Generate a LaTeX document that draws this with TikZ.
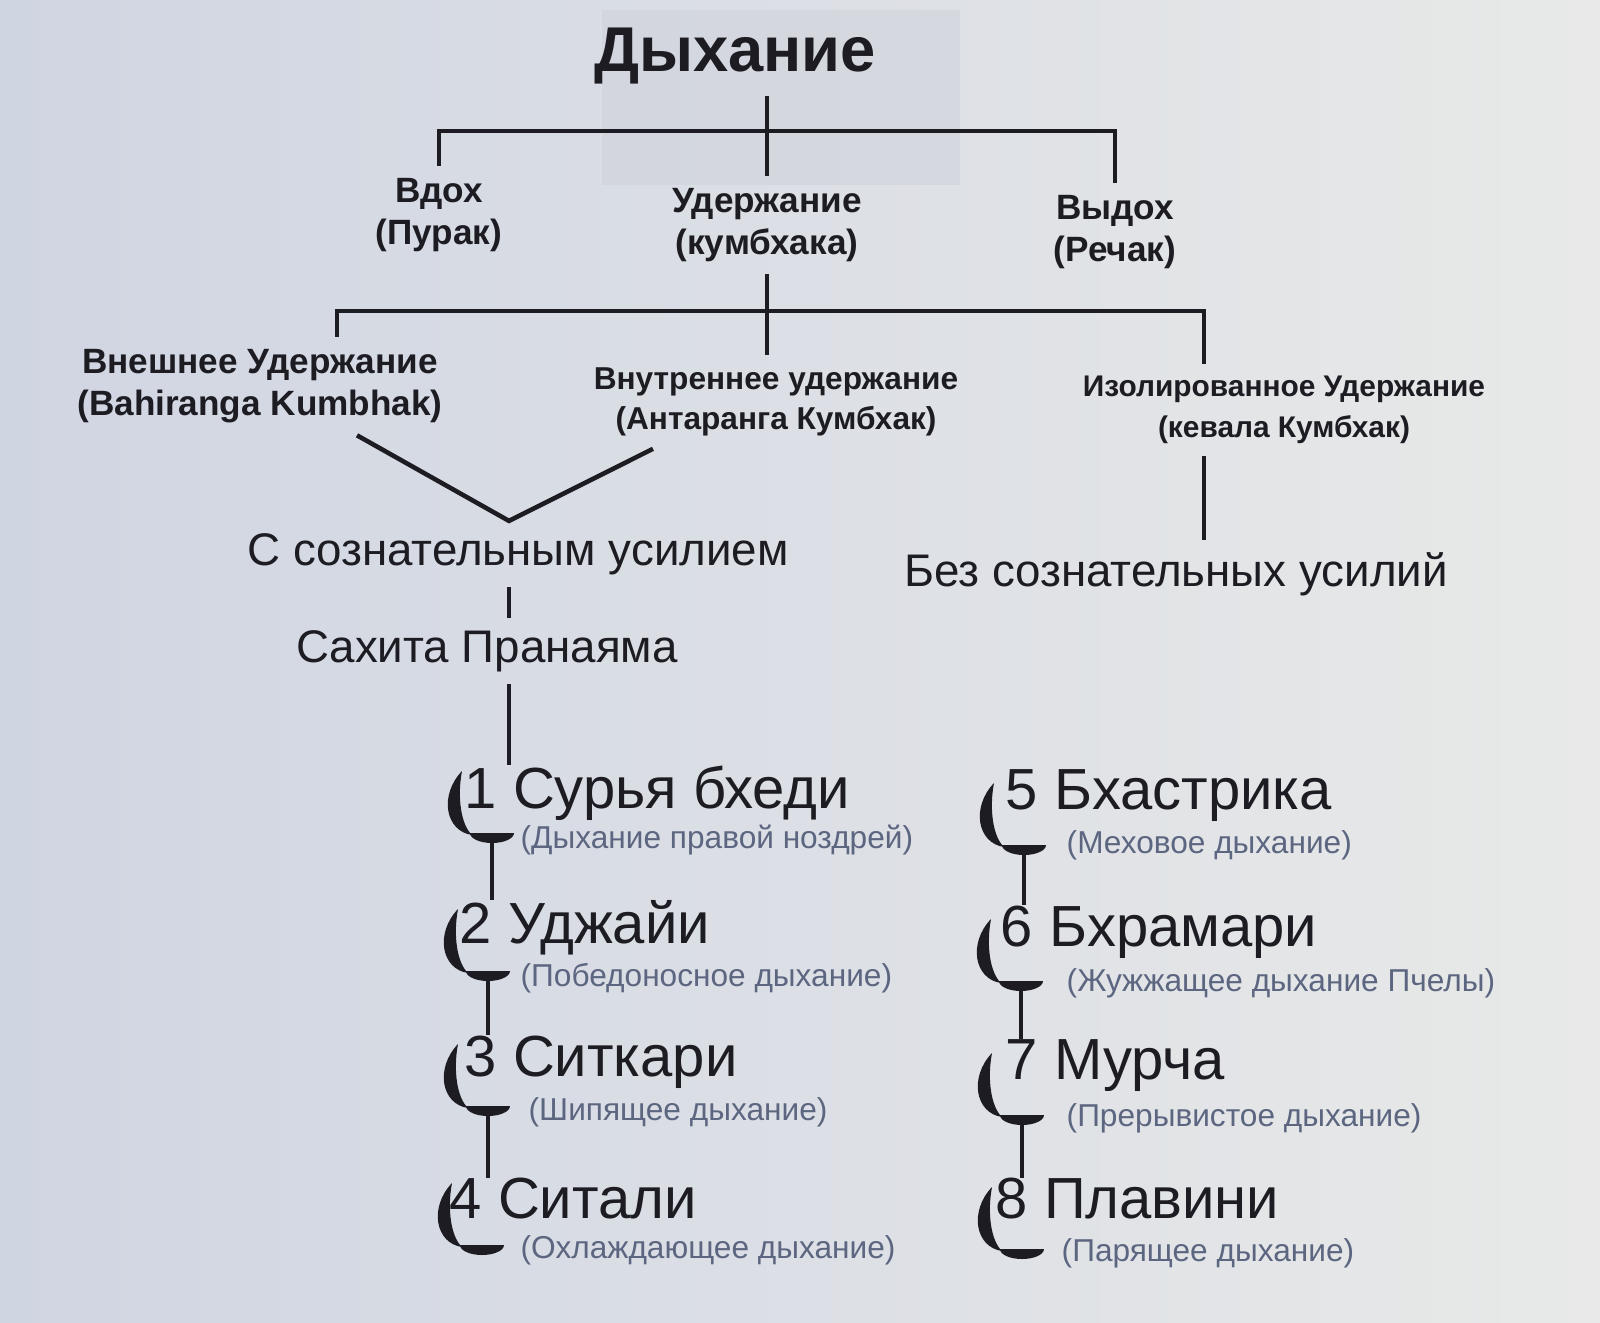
\documentclass[tikz,border=0pt]{standalone}
\usepackage{fontspec}
\setmainfont{Liberation Sans}
\usetikzlibrary{positioning, calc}

\definecolor{ink}{RGB}{28,28,34}
\definecolor{gloss}{RGB}{92,102,128}
\definecolor{paperL}{RGB}{208,213,226}
\definecolor{paperR}{RGB}{232,233,232}
\definecolor{ghost}{RGB}{200,202,212}

\tikzset{
  moon/.pic={
    \fill[ink] (-0.3,0.64) .. controls (-0.53,0.4) and (-0.47,0.04) .. (-0.2,0)
      .. controls (-0.31,0.1) and (-0.35,0.38) .. cycle;
    \fill[ink] (-0.22,0.02) arc (180:360:0.22 and 0.1) -- cycle;
  }
}

\begin{document}
\begin{tikzpicture}[
    branch/.style={draw=ink, line width=1.3pt},
    title/.style={font=\bfseries\fontsize{18}{20}\selectfont, text=ink},
    head/.style={font=\bfseries\fontsize{10}{12}\selectfont, text=ink, align=center},
    mode/.style={font=\fontsize{13}{15}\selectfont, text=ink},
    item/.style={font=\fontsize{16.5}{18}\selectfont, text=ink, anchor=west, inner sep=0pt},
    note/.style={font=\fontsize{9}{10}\selectfont, text=gloss, anchor=west, inner sep=0pt}]
    \useasboundingbox (0,0) rectangle (16,-13.22);
    \shade[left color=paperL, right color=paperR] (0,0) rectangle (16,-13.22);
    \fill[ghost, opacity=0.35] (6.02,-0.1) rectangle (9.6,-1.85);

    % breathing tree
    \node[title] (breath) at (7.35,-0.56) {Дыхание};
    \node[head] (inhale) at (4.39,-2.15) {Вдох\\(Пурак)};
    \node[head] (hold) at (7.67,-2.25) {Удержание\\(кумбхака)};
    \node[head] (exhale) at (11.15,-2.32) {Выдох\\(Речак)};
    \coordinate (bar1) at (7.67,-1.31);

    \draw[branch] (breath.south -| hold) -- (hold.north);
    \draw[branch] (inhale.north) |- (bar1) -| (exhale.north);

    % kinds of holding
    \node[head] (outer) at (2.60,-3.86) {Внешнее Удержание\\(Bahiranga Kumbhak)};
    \node[head, font=\bfseries\fontsize{9}{11.5}\selectfont] (inner) at (7.76,-4.02) {Внутреннее удержание\\(Антаранга Кумбхак)};
    \node[head, font=\bfseries\fontsize{8.5}{11.5}\selectfont] (kevala) at (12.84,-4.10) {Изолированное Удержание\\(кевала Кумбхак)};
    \coordinate (bar2) at (7.67,-3.11);
    \coordinate (dl) at (3.37,0);
    \coordinate (dr) at (12.04,0);

    \draw[branch] (hold.south) -- (inner.north -| hold);
    \draw[branch] (outer.north -| dl) |- (bar2) -| (kevala.north -| dr);

    \node[mode] (effort) at (5.18,-5.54) {С сознательным усилием};
    \node[mode] (noeffort) at (11.76,-5.74) {Без сознательных усилий};
    \node[mode] (sahita) at (4.87,-6.51) {Сахита Пранаяма};
    \coordinate (spine) at (5.09,0);

    \draw[branch] ($(outer.south)+(0.97,0)$) -- (effort.north -| spine)
        -- ($(inner.south)+(-1.23,0)$);
    \draw[branch] (kevala.south -| dr) -- (noeffort.north -| dr);
    \draw[branch] (effort.south -| spine) -- (sahita.north -| spine);

    % pranayama list
    \node[item] (p1) at (4.64,-7.93) {1 Сурья бхеди};
    \node[item] (p2) at (4.59,-9.28) {2 Уджайи};
    \node[item] (p3) at (4.64,-10.62) {3 Ситкари};
    \node[item] (p4) at (4.49,-11.99) {4 Ситали};
    \node[item] (p5) at (10.05,-7.96) {5 Бхастрика};
    \node[item] (p6) at (10.00,-9.32) {6 Бхрамари};
    \node[item] (p7) at (10.05,-10.66) {7 Мурча};
    \node[item] (p8) at (9.95,-11.99) {8 Плавини};

    \node[note] (g1) at ($(p1.west)+(0.56,-0.47)$) {(Дыхание правой ноздрей)};
    \node[note] (g2) at ($(p2.west)+(0.61,-0.5)$) {(Победоносное дыхание)};
    \node[note] (g3) at ($(p3.west)+(0.64,-0.5)$) {(Шипящее дыхание)};
    \node[note] (g4) at ($(p4.west)+(0.71,-0.51)$) {(Охлаждающее дыхание)};
    \node[note] (g5) at ($(p5.west)+(0.61,-0.49)$) {(Меховое дыхание)};
    \node[note] (g6) at ($(p6.west)+(0.66,-0.51)$) {(Жужжащее дыхание Пчелы)};
    \node[note] (g7) at ($(p7.west)+(0.61,-0.52)$) {(Прерывистое дыхание)};
    \node[note] (g8) at ($(p8.west)+(0.66,-0.54)$) {(Парящее дыхание)};

    \coordinate (m1) at ($(p1.west)+(0.28,-0.42)$);
    \coordinate (m2) at ($(p2.west)+(0.29,-0.45)$);
    \coordinate (m3) at ($(p3.west)+(0.24,-0.46)$);
    \coordinate (m4) at ($(p4.west)+(0.33,-0.48)$);
    \coordinate (m5) at ($(p5.west)+(0.19,-0.51)$);
    \coordinate (m6) at ($(p6.west)+(0.21,-0.51)$);
    \coordinate (m7) at ($(p7.west)+(0.17,-0.51)$);
    \coordinate (m8) at ($(p8.west)+(0.27,-0.52)$);
    \foreach \m in {1,...,8}
        \pic at (m\m) {moon};

    \draw[branch] (sahita.south -| spine) -- (p1.north -| spine);
    \path[branch]
        (m1) edge (m1 |- p2.north)
        (m2) edge (m2 |- p3.north)
        (m3) edge (m3 |- p4.north)
        (m5) edge (m5 |- p6.north)
        (m6) edge (m6 |- p7.north)
        (m7) edge (m7 |- p8.north);
\end{tikzpicture}
\end{document}
